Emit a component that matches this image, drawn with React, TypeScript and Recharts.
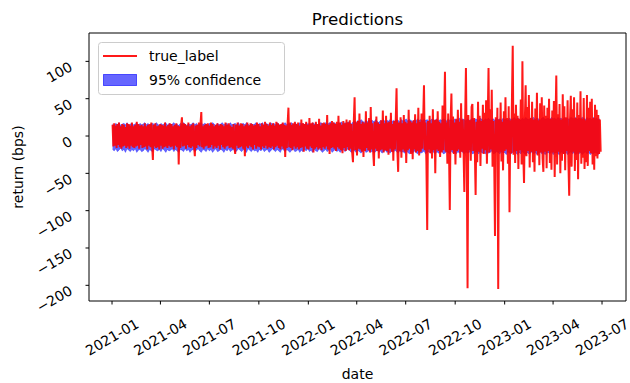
import React from "react"
import { ComposedChart, Line, Area, XAxis, YAxis, ReferenceLine } from "recharts"

// true_label sampled every 1.5 days, confidence band every 3 days, both from 2021-01-02
const START = Date.UTC(2021, 0, 2)
const LINE_STEP_DAYS = 1.5
const BAND_STEP_DAYS = 3
const DAY = 86400000

const trueLabel = [
  15, -14, 17, -13, 14, -16, 16, -12, 18, -15, 13, -17, 16, -14, 15, -13, 12, -16, 17, -14,
  16, -17, 14, -13, 18, -15, 13, -16, 15, -14, 19, -13, 16, -17, 14, -12, 15, -16, 13, -15,
  17, -14, 13, -18, 15, -13, 16, -15, 18, -12, -32, 15, -14, 17, -16, 13, -15, 14, -18, 16,
  -13, 15, -17, 14, -15, 18, -14, 13, -16, 15, -13, 17, -15, 16, -14, 13, -18, 15, -13, 17,
  -15, 14, -38, 13, -16, 15, 25, -14, 17, -13, 16, -17, 14, -12, 18, -15, 13, -16, 15, -14,
  17, -13, -27, 14, -16, 15, -12, 18, -14, 16, 32, -15, 13, -17, 15, -14, 16, -13, 17, -16,
  14, -15, 18, -12, 16, -17, 13, -14, 15, -16, 17, -13, 14, -18, 16, -12, 15, -15, 13, -17,
  18, -14, 15, -13, 17, -16, 14, -15, 12, -17, 16, -14, -24, 15, -13, 18, -16, 14, -15, 17,
  -14, 16, -17, 13, -27, 15, -14, 18, -16, 14, -13, 17, -15, 16, -18, 14, -12, 15, -17, 18,
  -14, 16, -15, 13, -18, 17, -14, 15, -16, 19, -13, 16, -17, 14, -15, 18, -16, 15, -14, 17,
  -18, 14, -15, 19, -13, 17, -16, 15, -18, 16, -14, 18, -17, 15, -28, 14, -16, 17, 38, -15,
  18, -16, 15, -19, 17, -14, 19, -17, 16, -15, 18, -18, 14, -16, 22, -15, 17, -21, 16, -14,
  19, -17, 15, -18, 24, -14, 17, -16, 18, -22, 15, -17, 19, -15, 16, -18, 23, -16, 14, -19,
  17, -15, 18, -17, 16, -14, 28, -18, 15, -24, 17, -16, 20, -15, 18, -17, 16, -20, 19, -15,
  27, -17, 18, -19, 15, -23, 20, -16, 17, -20, 22, -15, 18, -19, 21, -17, 16, -22, -35, 19,
  52, -19, 18, -26, 20, -17, 30, -18, 16, -21, 19, -28, 17, -20, 33, -16, 18, -19, 24, -22,
  39, -18, 17, -21, -40, 19, -17, 26, -20, 18, -30, 16, -19, 21, -18, 34, -22, 17, -19, 27,
  -20, 18, -25, 19, -17, 31, -21, 16, -33, 20, -18, 22, 64, -19, -48, 18, -20, 25, -29, 17,
  -18, 28, -21, 19, -36, 17, -19, 35, -17, 20, -24, 18, -31, 21, -18, 29, -22, 17, -20, 38,
  -26, 19, -21, 30, -17, 22, 68, -19, 18, -34, -126, 20, -18, 27, -23, 17, -30, 36, -19, 21,
  -50, 22, -18, 33, -20, 19, -28, 17, -22, 41, -19, 24, 86, -21, 18, -37, 30, -17, -99, 20,
  57, -19, 26, -24, 18, -38, 23, -20, 35, -18, 19, -29, 44, -21, 22, -17, -75, 20, 91, -25,
  -204, 28, -19, 21, -33, 39, 43, -20, 24, -18, -79, 19, -35, 46, -21, 27, -40, 20, -17, 42,
  -24, 31, -19, 48, -37, 21, 91, -22, 36, -18, 62, -41, 20, -30, -134, 25, -19, 38, -205, 22,
  -21, 45, -34, 19, -46, 33, -20, 52, -18, 24, -37, 40, -102, 21, -23, 47, 121, -25, 30, -36,
  42, -20, 27, -44, 23, -19, 49, -38, 100, -22, -63, 21, 68, -27, 39, -20, 55, -42, 24, -21,
  46, -35, 22, -48, 37, -20, 58, -26, 21, -39, 44, -22, 52, -30, -48, 41, -21, 27, -43, 38,
  -20, 50, -36, 23, -45, 34, -22, 47, -55, 21, 81, -38, 29, -21, 43, -50, 22, -33, 56, -24,
  40, -46, 25, -20, 48, -35, -80, 22, 54, -41, 36, -21, 52, -47, 24, -32, 45, -58, 28, -22,
  60, -37, 23, -29, 51, -44, 21, -35, 55, -40, 38, -20, 46, -23, 50, -38, 24, -45, 42, -27,
  35, -30, 28, -24, 22, -21,
]

const confUpper = [
  16, 14, 17, 15, 18, 14, 16, 17, 15, 18,
  14, 16, 17, 15, 16, 18, 14, 17, 15, 16,
  18, 15, 17, 14, 16, 17, 15, 18, 16, 14,
  17, 15, 16, 18, 14, 17, 15, 16, 18, 15,
  16, 14, 17, 15, 18, 16, 14, 17, 15, 16,
  18, 15, 17, 14, 16, 18, 15, 17, 16, 14,
  17, 15, 18, 16, 14, 17, 15, 16, 18, 15,
  16, 17, 14, 18, 15, 16, 17, 15, 18, 14,
  16, 17, 15, 18, 16, 14, 17, 15, 16, 18,
  15, 17, 16, 18, 14, 17, 16, 15, 18, 16,
  17, 15, 18, 16, 14, 17, 16, 18, 15, 17,
  16, 18, 15, 17, 16, 14, 18, 16, 17, 15,
  18, 16, 17, 15, 18, 16, 17, 15, 16, 18,
  17, 15, 18, 16, 17, 19, 16, 18, 17, 15,
  18, 17, 19, 16, 18, 17, 19, 18, 16, 19,
  20, 18, 21, 19, 22, 20, 18, 21, 19, 22,
  20, 21, 19, 22, 20, 18, 21, 20, 22, 19,
  21, 20, 22, 19, 21, 20, 22, 21, 19, 22,
  20, 21, 23, 20, 22, 21, 19, 22, 20, 23,
  21, 22, 20, 23, 21, 22, 20, 21, 23, 22,
  21, 23, 20, 22, 21, 23, 22, 20, 23, 21,
  22, 20, 23, 21, 22, 24, 21, 23, 22, 20,
  23, 21, 22, 24, 21, 23, 22, 20, 24, 22,
  21, 23, 22, 24, 21, 22, 23, 21, 24, 22,
  23, 21, 24, 22, 23, 21, 24, 22, 23, 25,
  22, 24, 23, 21, 24, 22, 25, 23, 22, 24,
  23, 25, 22, 24, 23, 21, 24, 25, 22, 23,
  24, 22, 25, 23, 24, 22, 25, 23, 24, 22,
  25, 23, 24, 22, 25, 24, 23, 25, 22, 24,
  23, 25, 24, 22, 25, 23, 24, 22, 25, 23,
  24, 22, 23,
]

const confLower = [
  -18, -20, -17, -21, -19, -16, -20, -18, -22, -17,
  -19, -21, -18, -20, -17, -22, -19, -18, -21, -20,
  -17, -19, -22, -18, -20, -21, -17, -19, -20, -18,
  -21, -17, -19, -22, -18, -20, -19, -17, -21, -18,
  -20, -22, -18, -19, -21, -17, -20, -18, -22, -19,
  -18, -21, -19, -17, -20, -22, -18, -19, -21, -17,
  -20, -18, -22, -19, -17, -21, -20, -18, -19, -22,
  -18, -20, -17, -21, -19, -18, -22, -20, -17, -19,
  -21, -18, -20, -22, -17, -19, -21, -18, -20, -19,
  -22, -18, -20, -17, -21, -19, -18, -22, -20, -17,
  -19, -21, -18, -20, -22, -17, -19, -21, -18, -20,
  -22, -19, -17, -21, -20, -18, -22, -19, -21, -18,
  -20, -17, -21, -19, -22, -18, -20, -21, -17, -19,
  -22, -20, -18, -21, -19, -17, -22, -20, -18, -21,
  -19, -22, -20, -18, -21, -19, -17, -20, -22, -18,
  -20, -22, -19, -21, -23, -20, -18, -22, -21, -19,
  -22, -20, -23, -21, -19, -22, -20, -23, -21, -19,
  -22, -21, -23, -20, -22, -19, -21, -23, -20, -22,
  -21, -23, -20, -22, -24, -21, -23, -20, -22, -24,
  -21, -23, -22, -20, -24, -22, -21, -23, -20, -22,
  -24, -21, -23, -22, -20, -24, -23, -21, -22, -24,
  -20, -23, -22, -24, -21, -23, -20, -22, -24, -21,
  -23, -22, -20, -24, -23, -21, -22, -24, -20, -23,
  -22, -24, -21, -23, -22, -20, -24, -23, -21, -22,
  -24, -21, -23, -22, -25, -21, -23, -24, -22, -20,
  -23, -25, -22, -24, -21, -23, -25, -22, -24, -23,
  -21, -24, -22, -25, -23, -21, -24, -22, -25, -23,
  -22, -24, -21, -25, -23, -22, -24, -25, -21, -23,
  -24, -22, -25, -23, -21, -24, -22, -25, -23, -24,
  -22, -25, -23, -21, -24, -22, -25, -23, -24, -22,
  -23, -25, -22,
]

const xTicks = [
  Date.UTC(2021, 0, 1), Date.UTC(2021, 3, 1), Date.UTC(2021, 6, 1), Date.UTC(2021, 9, 1),
  Date.UTC(2022, 0, 1), Date.UTC(2022, 3, 1), Date.UTC(2022, 6, 1), Date.UTC(2022, 9, 1),
  Date.UTC(2023, 0, 1), Date.UTC(2023, 3, 1), Date.UTC(2023, 6, 1),
]
const yTicks = [-200, -150, -100, -50, 0, 50, 100]

const X_MIN = Date.UTC(2020, 10, 19, 5)
const X_MAX = Date.UTC(2023, 7, 14, 14)
const Y_MIN = -221
const Y_MAX = 138

const FONT = "DejaVu Sans"

const lineData = trueLabel.map((v, i) => ({
  t: START + i * LINE_STEP_DAYS * DAY,
  trueLabel: v,
}))

const bandData = confUpper.map((hi, i) => ({
  t: START + i * BAND_STEP_DAYS * DAY,
  conf: [confLower[i], hi],
}))

const fmtDate = (t: number) => {
  const d = new Date(t)
  return `${d.getUTCFullYear()}-${String(d.getUTCMonth() + 1).padStart(2, "0")}`
}

function XTick(props: any) {
  const { x, payload } = props
  const cy = 337
  return (
    <text x={x} y={cy} textAnchor="middle" dominantBaseline="central" fontSize={14}
      fontFamily={FONT} fill="#000" transform={`rotate(-30, ${x}, ${cy})`}>
      {fmtDate(payload.value)}
    </text>
  )
}

function YTick(props: any) {
  const { y, payload } = props
  const ax = 71
  const ay = y + 4
  const label = payload.value < 0 ? `\u2212${Math.abs(payload.value)}` : `${payload.value}`
  return (
    <text x={ax} y={ay} textAnchor="end" dominantBaseline="central" fontSize={14}
      fontFamily={FONT} fill="#000" transform={`rotate(-30, ${ax}, ${ay})`}>
      {label}
    </text>
  )
}

export default function App() {
  return (
    <div style={{ position: "absolute", left: 0, top: 0, width: 630, height: 383, background: "#fff" }}>
      <ComposedChart width={630} height={383} margin={{ top: 33, right: 4, bottom: 0, left: 0 }}>
        <XAxis dataKey="t" type="number" scale="time" domain={[X_MIN, X_MAX]} ticks={xTicks}
          allowDataOverflow height={82} tickSize={3.5} tick={<XTick />} interval={0}
          axisLine={{ stroke: "#000", strokeWidth: 1 }} tickLine={{ stroke: "#000" }} />
        <YAxis type="number" domain={[Y_MIN, Y_MAX]} ticks={yTicks} allowDataOverflow width={89}
          tickSize={3.5} tick={<YTick />} interval={0}
          axisLine={{ stroke: "#000", strokeWidth: 1 }} tickLine={{ stroke: "#000" }} />
        <Area data={bandData} dataKey="conf" type="linear" fill="#0000ff" fillOpacity={0.6} stroke="#0000ff"
          strokeOpacity={0.6} strokeWidth={0.5} isAnimationActive={false} />
        <Line data={lineData} dataKey="trueLabel" type="linear" stroke="#ff0000" strokeOpacity={0.9} strokeWidth={2}
          dot={false} activeDot={false} isAnimationActive={false} />
        <ReferenceLine y={Y_MAX} stroke="#000" strokeWidth={1} />
        <ReferenceLine x={X_MAX} stroke="#000" strokeWidth={1} />
      </ComposedChart>
      <svg width={630} height={383} style={{ position: "absolute", left: 0, top: 0, pointerEvents: "none" }}>
        <text x={357.5} y={25} textAnchor="middle" fontSize={16.7} fontFamily={FONT} fill="#000">Predictions</text>
        <text x={357.5} y={379} textAnchor="middle" fontSize={14} fontFamily={FONT} fill="#000">date</text>
        <text x={18} y={167} textAnchor="middle" dominantBaseline="central" fontSize={14} fontFamily={FONT} fill="#000"
          transform="rotate(-90, 18, 167)">return (bps)</text>
        <rect x={98.5} y={42.5} width={186} height={52} rx={3} fill="#fff" fillOpacity={0.8} stroke="#cccccc" />
        <line x1={103} x2={137} y1={56} y2={56} stroke="#ff0000" strokeOpacity={0.9} strokeWidth={2} />
        <text x={149} y={61} fontSize={14} fontFamily={FONT} fill="#000">true_label</text>
        <rect x={103.5} y={74.5} width={33} height={11} fill="#0000ff" fillOpacity={0.6} stroke="#0000ff" strokeOpacity={0.6} />
        <text x={149} y={85} fontSize={14} fontFamily={FONT} fill="#000">95% confidence</text>
      </svg>
    </div>
  )
}
